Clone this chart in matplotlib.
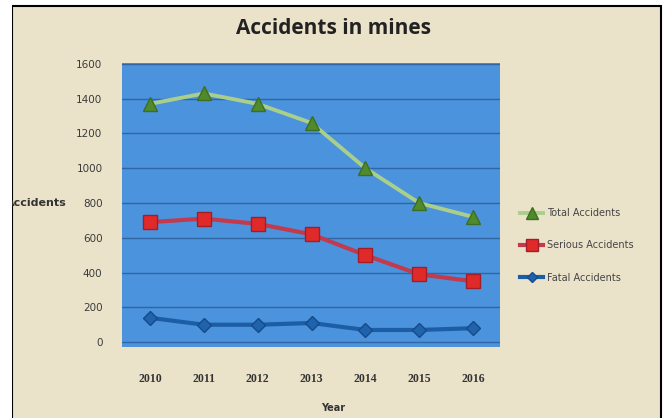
import matplotlib.pyplot as plt
from matplotlib.patches import Rectangle

years = [2010, 2011, 2012, 2013, 2014, 2015, 2016]
total = [1370, 1430, 1370, 1260, 1000, 800, 720]
serious = [690, 710, 680, 620, 500, 390, 350]
fatal = [140, 100, 100, 110, 70, 70, 80]
yticks = [0, 200, 400, 600, 800, 1000, 1200, 1400, 1600]

fig = plt.figure(figsize=(6.66, 4.18), dpi=100)
fig.patch.set_facecolor('white')

# cream chart frame with black border
frame = Rectangle((12 / 666, -0.01), (661 - 12) / 666, (418 - 6) / 418 + 0.01,
                  transform=fig.transFigure, facecolor='#ebe3c9',
                  edgecolor='black', linewidth=1.5, zorder=-5)
fig.patches.append(frame)

ax = fig.add_axes([122 / 666, 1 - 347 / 418, (500 - 122) / 666, (347 - 63) / 418])
ax.set_zorder(2)
ax.set_facecolor('#4b93dc')
for s in ax.spines.values():
    s.set_visible(False)

ax.plot(years, total, color='#a9cf8a', lw=2.8, marker='^', ms=10,
        markerfacecolor='#4f8a2b', markeredgecolor='#3d6e22', label='Total Accidents', zorder=3)
ax.plot(years, serious, color='#c23a4e', lw=3, marker='s', ms=10,
        markerfacecolor='#e02a2a', markeredgecolor='#a01e28', label='Serious Accidents', zorder=3)
ax.plot(years, fatal, color='#1c5ea6', lw=3, marker='D', ms=7,
        markerfacecolor='#1f62ad', markeredgecolor='#174b88', label='Fatal Accidents', zorder=3)

ax.set_xlim(2009.48, 2016.5)
ax.set_ylim(-28, 1605)
ax.set_yticks(yticks)
ax.set_xticks(years)
ax.yaxis.grid(True, color='#2a5b96', lw=1.0, alpha=0.8)
ax.set_axisbelow(True)
ax.tick_params(length=0)
ax.tick_params(axis='y', labelsize=7.5, colors='#3a3a3a', pad=14)
ax.tick_params(axis='x', pad=19)
for lab in ax.get_xticklabels():
    lab.set_fontfamily('Liberation Serif')
    lab.set_fontweight('bold')
    lab.set_fontsize(8.5)
    lab.set_color('#333333')

fig.text(333 / 666, 1 - 28 / 418, 'Accidents in mines', ha='center', va='center',
         fontsize=15, fontweight='bold', family='Open Sans', color='#222222')
fig.text(67 / 666, 1 - 203 / 418, 'Accidents', ha='right', va='center',
         fontsize=8, fontweight='bold', color='#333333', zorder=-4)
fig.text(333 / 666, 1 - 408 / 418, 'Year', ha='center', va='center',
         fontsize=7, fontweight='bold', color='#333333')

# white strip left of the frame hides the clipped start of the label
fig.patches.append(Rectangle((0, 0), 11.5 / 666, 1, transform=fig.transFigure,
                             facecolor='white', edgecolor='none', zorder=-3))

leg = ax.legend(loc='upper left', bbox_to_anchor=(1.03, 0.52), frameon=False,
                fontsize=7, labelspacing=2.3, handlelength=2.4, handletextpad=0.4,
                markerscale=0.8)
for t in leg.get_texts():
    t.set_color('#444444')

fig.savefig('out.png', dpi=100)
